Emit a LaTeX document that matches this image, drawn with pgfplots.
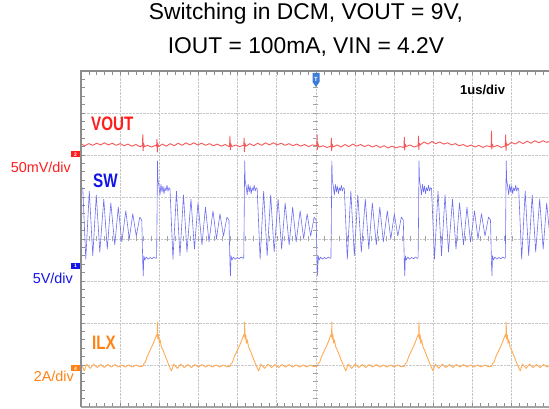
\documentclass[border=0pt]{standalone}
\usepackage{pgfplots}
\pgfplotsset{compat=1.18}
\usepackage{fontspec}
\setmainfont{Liberation Sans}
\newfontfamily\condfont{Liberation Sans}[FakeStretch=0.78]
\definecolor{voutc}{HTML}{FF1E1E}
\definecolor{vouttr}{HTML}{F45858}
\definecolor{swc}{HTML}{1414E6}
\definecolor{swtr}{HTML}{6E6EF0}
\definecolor{ilxc}{HTML}{FF8214}
\definecolor{ilxtr}{HTML}{FFAA55}
\definecolor{bordergray}{HTML}{8C8C8C}
\definecolor{trigblue}{HTML}{3C7DD9}
\begin{document}
\begin{tikzpicture}[x=1pt,y=1pt]
\path[use as bounding box] (0,0) rectangle (549,409);
\begin{axis}[
  at={(81pt,2pt)}, anchor=south west, scale only axis,
  width=468pt, height=336pt,
  xmin=0, xmax=11.95, ymin=0, ymax=8,
  axis line style={draw=none},
  xtick={0,...,12}, ytick={0,...,8},
  minor x tick num=4, minor y tick num=4,
  xtick pos=both, ytick pos=left,
  tick align=inside,
  major tick length=4pt, minor tick length=4pt,
  tick style={bordergray, line width=0.6pt},
  xticklabels={}, yticklabels={},
  ticklabel style={opacity=0},
  grid=major,
  grid style={densely dotted, black!22, line width=0.7pt},
  line join=round,
]
% VOUT (divisions)
\addplot[vouttr, line width=0.9pt] coordinates {
(0.00,6.26) (0.10,6.22) (0.20,6.27) (0.30,6.23) (0.40,6.28) (0.50,6.24) (0.60,6.29) (0.70,6.24) (0.80,6.28) (0.90,6.23)
(1.00,6.27) (1.10,6.22) (1.20,6.26) (1.30,6.21) (1.40,6.25) (1.50,6.20) (1.568,6.22) (1.578,6.48) (1.586,6.10) (1.598,6.28)
(1.62,6.20) (1.70,6.23) (1.80,6.19) (1.90,6.23) (1.930,6.21) (1.940,6.38) (1.948,6.07) (1.960,6.27) (1.98,6.20) (2.08,6.26)
(2.18,6.21) (2.28,6.27) (2.38,6.22) (2.48,6.28) (2.58,6.23) (2.68,6.29) (2.78,6.24) (2.88,6.29) (2.98,6.24) (3.08,6.28)
(3.18,6.23) (3.28,6.27) (3.38,6.22) (3.48,6.26) (3.58,6.21) (3.68,6.25) (3.78,6.20) (3.794,6.22) (3.804,6.45) (3.812,6.12)
(3.824,6.27) (3.85,6.20) (3.95,6.24) (4.05,6.20) (4.156,6.23) (4.166,6.40) (4.174,6.08) (4.186,6.28) (4.21,6.21) (4.31,6.27)
(4.41,6.22) (4.51,6.28) (4.61,6.23) (4.71,6.29) (4.81,6.24) (4.91,6.29) (5.01,6.24) (5.11,6.28) (5.21,6.23) (5.31,6.27)
(5.41,6.22) (5.51,6.26) (5.61,6.21) (5.71,6.25) (5.81,6.20) (5.91,6.24) (6.02,6.22) (6.030,6.48) (6.038,6.13) (6.050,6.27)
(6.08,6.19) (6.18,6.22) (6.28,6.18) (6.382,6.21) (6.392,6.40) (6.400,6.10) (6.412,6.26) (6.44,6.19) (6.54,6.24) (6.64,6.19)
(6.74,6.25) (6.84,6.20) (6.94,6.26) (7.04,6.21) (7.14,6.25) (7.24,6.20) (7.34,6.24) (7.44,6.19) (7.54,6.23) (7.64,6.18)
(7.74,6.22) (7.84,6.17) (7.94,6.21) (8.04,6.17) (8.14,6.20) (8.246,6.18) (8.256,6.42) (8.264,6.12) (8.276,6.26) (8.30,6.20)
(8.40,6.24) (8.50,6.19) (8.608,6.22) (8.618,6.45) (8.626,6.13) (8.638,6.28) (8.66,6.24) (8.76,6.31) (8.86,6.26) (8.96,6.32)
(9.06,6.27) (9.16,6.31) (9.26,6.26) (9.36,6.29) (9.46,6.24) (9.56,6.27) (9.66,6.22) (9.76,6.25) (9.86,6.20) (9.96,6.24)
(10.06,6.19) (10.16,6.23) (10.26,6.18) (10.36,6.22) (10.472,6.19) (10.482,6.57) (10.490,6.14) (10.502,6.26) (10.53,6.19) (10.63,6.23)
(10.73,6.18) (10.834,6.22) (10.844,6.48) (10.852,6.10) (10.864,6.28) (10.89,6.23) (10.99,6.30) (11.09,6.26) (11.19,6.32) (11.29,6.27)
(11.39,6.33) (11.49,6.28) (11.59,6.34) (11.69,6.29) (11.79,6.34) (11.89,6.30) (11.99,6.33)
};
% SW (divisions)
\addplot[swtr, line width=0.6pt] coordinates {
(-0.056,5.15) (-0.030,5.28) (-0.005,5.14) (0.021,5.22) (0.046,5.20) (0.122,3.52) (0.212,5.14) (0.301,3.60) (0.391,5.05) (0.480,3.69)
(0.582,4.95) (0.671,3.76) (0.761,4.86) (0.863,3.86) (0.952,4.76) (1.042,3.93) (1.144,4.67) (1.233,4.00) (1.322,4.60) (1.412,4.07)
(1.501,4.52) (1.552,4.45) (1.578,3.40) (1.590,3.12) (1.604,3.60) (1.629,3.50) (1.664,3.57) (1.714,3.52) (1.764,3.56) (1.814,3.53)
(1.864,3.57) (1.914,3.54) (1.930,3.55)
(1.940,4.40) (1.953,5.86) (1.966,5.40) (1.991,5.25) (2.017,5.05) (2.042,5.30) (2.068,5.12) (2.093,5.26) (2.119,5.08) (2.144,5.22)
(2.170,5.15) (2.196,5.28) (2.221,5.14) (2.247,5.22) (2.272,5.20) (2.348,3.52) (2.438,5.14) (2.527,3.60) (2.617,5.05) (2.706,3.69)
(2.808,4.95) (2.897,3.76) (2.987,4.86) (3.089,3.86) (3.178,4.76) (3.268,3.93) (3.370,4.67) (3.459,4.00) (3.548,4.60) (3.638,4.07)
(3.727,4.52) (3.778,4.45) (3.804,3.40) (3.816,3.12) (3.830,3.60) (3.855,3.50) (3.890,3.57) (3.940,3.52) (3.990,3.56) (4.040,3.53)
(4.090,3.57) (4.140,3.54) (4.156,3.55)
(4.166,4.40) (4.179,5.86) (4.192,5.40) (4.217,5.25) (4.243,5.05) (4.268,5.30) (4.294,5.12) (4.319,5.26) (4.345,5.08) (4.370,5.22)
(4.396,5.15) (4.422,5.28) (4.447,5.14) (4.473,5.22) (4.498,5.20) (4.574,3.52) (4.664,5.14) (4.753,3.60) (4.843,5.05) (4.932,3.69)
(5.034,4.95) (5.123,3.76) (5.213,4.86) (5.315,3.86) (5.404,4.76) (5.494,3.93) (5.596,4.67) (5.685,4.00) (5.774,4.60) (5.864,4.07)
(5.953,4.52) (6.004,4.45) (6.030,3.40) (6.042,3.12) (6.056,3.60) (6.081,3.50) (6.116,3.57) (6.166,3.52) (6.216,3.56) (6.266,3.53)
(6.316,3.57) (6.366,3.54) (6.382,3.55)
(6.392,4.40) (6.405,5.86) (6.418,5.40) (6.443,5.25) (6.469,5.05) (6.494,5.30) (6.520,5.12) (6.545,5.26) (6.571,5.08) (6.596,5.22)
(6.622,5.15) (6.648,5.28) (6.673,5.14) (6.699,5.22) (6.724,5.20) (6.800,3.52) (6.890,5.14) (6.979,3.60) (7.069,5.05) (7.158,3.69)
(7.260,4.95) (7.349,3.76) (7.439,4.86) (7.541,3.86) (7.630,4.76) (7.720,3.93) (7.822,4.67) (7.911,4.00) (8.000,4.60) (8.090,4.07)
(8.179,4.52) (8.230,4.45) (8.256,3.40) (8.268,3.12) (8.282,3.60) (8.307,3.50) (8.342,3.57) (8.392,3.52) (8.442,3.56) (8.492,3.53)
(8.542,3.57) (8.592,3.54) (8.608,3.55)
(8.618,4.40) (8.631,5.86) (8.644,5.40) (8.669,5.25) (8.695,5.05) (8.720,5.30) (8.746,5.12) (8.771,5.26) (8.797,5.08) (8.822,5.22)
(8.848,5.15) (8.874,5.28) (8.899,5.14) (8.925,5.22) (8.950,5.20) (9.026,3.52) (9.116,5.14) (9.205,3.60) (9.295,5.05) (9.384,3.69)
(9.486,4.95) (9.575,3.76) (9.665,4.86) (9.767,3.86) (9.856,4.76) (9.946,3.93) (10.048,4.67) (10.137,4.00) (10.226,4.60) (10.316,4.07)
(10.405,4.52) (10.456,4.45) (10.482,3.40) (10.494,3.12) (10.508,3.60) (10.533,3.50) (10.568,3.57) (10.618,3.52) (10.668,3.56) (10.718,3.53)
(10.768,3.57) (10.818,3.54) (10.834,3.55)
(10.844,4.40) (10.857,5.86) (10.870,5.40) (10.895,5.25) (10.921,5.05) (10.946,5.30) (10.972,5.12) (10.997,5.26) (11.023,5.08) (11.048,5.22)
(11.074,5.15) (11.100,5.28) (11.125,5.14) (11.151,5.22) (11.176,5.20) (11.252,3.52) (11.342,5.14) (11.431,3.60) (11.521,5.05) (11.610,3.69)
(11.712,4.95) (11.801,3.76) (11.891,4.86) (11.993,3.86)
};
% ILX (divisions)
\addplot[ilxtr, line width=0.9pt] coordinates {
(-0.026,1.10) (0.034,0.96) (0.084,0.86) (0.144,1.02) (0.234,0.92) (0.324,1.02) (0.414,0.94) (0.504,1.01) (0.594,0.94) (0.684,1.01)
(0.774,0.95) (0.864,1.01) (0.954,0.95) (1.044,1.00) (1.134,0.95) (1.224,1.00) (1.314,0.95) (1.404,1.00) (1.494,0.96)
(1.578,0.97) (1.610,1.04) (1.640,1.06) (1.690,1.20) (1.740,1.30) (1.790,1.40) (1.840,1.50) (1.890,1.62) (1.930,1.72) (1.945,1.68)
(1.953,2.02) (1.962,1.62) (1.980,1.72) (2.000,1.52) (2.020,1.60) (2.050,1.44) (2.090,1.36) (2.140,1.24) (2.200,1.10) (2.260,0.96)
(2.310,0.86) (2.370,1.02) (2.460,0.92) (2.550,1.02) (2.640,0.94) (2.730,1.01) (2.820,0.94) (2.910,1.01) (3.000,0.95) (3.090,1.01)
(3.180,0.95) (3.270,1.00) (3.360,0.95) (3.450,1.00) (3.540,0.95) (3.630,1.00) (3.720,0.96)
(3.804,0.97) (3.836,1.04) (3.866,1.06) (3.916,1.20) (3.966,1.30) (4.016,1.40) (4.066,1.50) (4.116,1.62) (4.156,1.72) (4.171,1.68)
(4.179,2.02) (4.188,1.62) (4.206,1.72) (4.226,1.52) (4.246,1.60) (4.276,1.44) (4.316,1.36) (4.366,1.24) (4.426,1.10) (4.486,0.96)
(4.536,0.86) (4.596,1.02) (4.686,0.92) (4.776,1.02) (4.866,0.94) (4.956,1.01) (5.046,0.94) (5.136,1.01) (5.226,0.95) (5.316,1.01)
(5.406,0.95) (5.496,1.00) (5.586,0.95) (5.676,1.00) (5.766,0.95) (5.856,1.00) (5.946,0.96)
(6.030,0.97) (6.062,1.04) (6.092,1.06) (6.142,1.20) (6.192,1.30) (6.242,1.40) (6.292,1.50) (6.342,1.62) (6.382,1.72) (6.397,1.68)
(6.405,2.02) (6.414,1.62) (6.432,1.72) (6.452,1.52) (6.472,1.60) (6.502,1.44) (6.542,1.36) (6.592,1.24) (6.652,1.10) (6.712,0.96)
(6.762,0.86) (6.822,1.02) (6.912,0.92) (7.002,1.02) (7.092,0.94) (7.182,1.01) (7.272,0.94) (7.362,1.01) (7.452,0.95) (7.542,1.01)
(7.632,0.95) (7.722,1.00) (7.812,0.95) (7.902,1.00) (7.992,0.95) (8.082,1.00) (8.172,0.96)
(8.256,0.97) (8.288,1.04) (8.318,1.06) (8.368,1.20) (8.418,1.30) (8.468,1.40) (8.518,1.50) (8.568,1.62) (8.608,1.72) (8.623,1.68)
(8.631,2.02) (8.640,1.62) (8.658,1.72) (8.678,1.52) (8.698,1.60) (8.728,1.44) (8.768,1.36) (8.818,1.24) (8.878,1.10) (8.938,0.96)
(8.988,0.86) (9.048,1.02) (9.138,0.92) (9.228,1.02) (9.318,0.94) (9.408,1.01) (9.498,0.94) (9.588,1.01) (9.678,0.95) (9.768,1.01)
(9.858,0.95) (9.948,1.00) (10.038,0.95) (10.128,1.00) (10.218,0.95) (10.308,1.00) (10.398,0.96)
(10.482,0.97) (10.514,1.04) (10.544,1.06) (10.594,1.20) (10.644,1.30) (10.694,1.40) (10.744,1.50) (10.794,1.62) (10.834,1.72) (10.849,1.68)
(10.857,2.02) (10.866,1.62) (10.884,1.72) (10.904,1.52) (10.924,1.60) (10.954,1.44) (10.994,1.36) (11.044,1.24) (11.104,1.10) (11.164,0.96)
(11.214,0.86) (11.274,1.02) (11.364,0.92) (11.454,1.02) (11.544,0.94) (11.634,1.01) (11.724,0.94) (11.814,1.01) (11.904,0.95) (11.994,1.01)
};
\end{axis}
% centre cross ticks
\begin{axis}[
  at={(81pt,2pt)}, anchor=south west, scale only axis,
  width=468pt, height=336pt,
  xmin=-6, xmax=5.95, ymin=-4, ymax=4,
  axis lines=middle, axis line style={draw=none},
  xtick={-6,...,5}, ytick={-4,...,4},
  minor x tick num=4, minor y tick num=4,
  tick align=center,
  major tick length=5pt, minor tick length=5pt,
  tick style={bordergray!80, line width=0.6pt},
  xticklabels={}, yticklabels={},
  ticklabel style={opacity=0},
]
\end{axis}
% frame
\draw[bordergray, line width=2.4pt] (81,2) -- (81,338) -- (549,338);
\draw[bordergray!80, line width=2pt] (81,2) -- (549,2);
% trigger marker
\fill[trigblue] (312.5,336) -- (319.5,336) -- (319.5,327) -- (316,322) -- (312.5,327) -- cycle;
\node[text=white, font=\bfseries\fontsize{6}{6}\selectfont, inner sep=0] at (316,330) {T};
% channel markers
\node[fill=voutc, text=white, inner sep=0pt, minimum width=8.5pt, minimum height=6pt, font=\bfseries\fontsize{5}{5}\selectfont] at (75.5,254.5) {2};
\node[fill=swc, text=white, inner sep=0pt, minimum width=8.5pt, minimum height=6pt, font=\bfseries\fontsize{5}{5}\selectfont] at (75.5,143) {1};
\node[fill=ilxc, text=white, inner sep=0pt, minimum width=8.5pt, minimum height=6pt, font=\bfseries\fontsize{5}{5}\selectfont] at (75.5,40.5) {4};
% channel names
\node[anchor=base west, text=voutc, inner sep=0, font=\condfont\bfseries\fontsize{19.5}{20}\selectfont] at (91,278) {VOUT};
\node[anchor=base west, text=swc, inner sep=0, font=\condfont\bfseries\fontsize{19.5}{20}\selectfont] at (93,221) {SW};
\node[anchor=base west, text=ilxc, inner sep=0, font=\condfont\bfseries\fontsize{19.5}{20}\selectfont] at (92,59) {ILX};
% scales
\node[anchor=base east, text=voutc, inner sep=0, font=\fontsize{14.4}{15}\selectfont] at (71,236) {50mV/div};
\node[anchor=base east, text=swc, inner sep=0, font=\fontsize{14.4}{15}\selectfont] at (73,125) {5V/div};
\node[anchor=base east, text=ilxc, inner sep=0, font=\fontsize{14.4}{15}\selectfont] at (74,27) {2A/div};
\node[anchor=base west, inner sep=0, font=\bfseries\fontsize{13}{14}\selectfont] at (460,314) {1us/div};
% title
\node[anchor=base, inner sep=0, font=\fontsize{22.8}{24}\selectfont] at (306,389) {Switching in DCM, VOUT = 9V,};
\node[anchor=base, inner sep=0, font=\fontsize{22.8}{24}\selectfont] at (306,355) {IOUT = 100mA, VIN = 4.2V};
\end{tikzpicture}
\end{document}
